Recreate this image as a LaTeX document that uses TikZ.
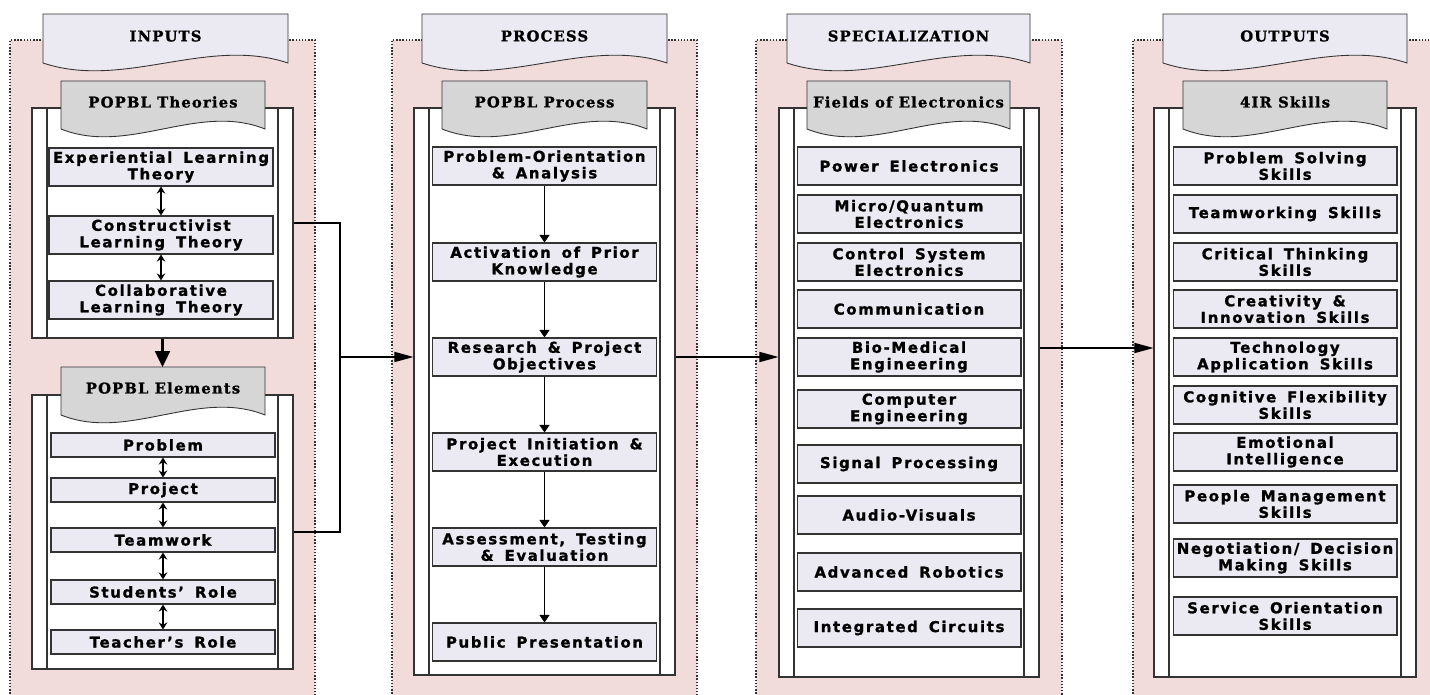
\documentclass[tikz,border=0pt]{standalone}
\usepackage{fontspec}
\usepackage{xcolor}
\usepackage{tikz}
\usetikzlibrary{arrows.meta,fit}
\newfontfamily\itemfont{DejaVu Sans}[LetterSpace=11.0,WordSpace=1.6,BoldFeatures={FakeBold=1.2,WordSpace=1.6}]
\newfontfamily\headfont{DejaVu Serif}[LetterSpace=8.0,BoldFeatures={FakeBold=1.2}]
\definecolor{Panel}{HTML}{F2DCDB}
\definecolor{Lav}{HTML}{EBE9F2}
\definecolor{Tab}{HTML}{D6D6D6}
\definecolor{Edge}{HTML}{333333}

% document-shaped tab: fill, left, right, top, wave base
\newcommand{\wavetab}[5]{%
  \filldraw[#1,draw=Edge,line width=0.5pt] (#2,#4) -- (#3,#4) -- (#3,#5)
    .. controls ({#2+0.67*(#3-#2)},{#5-27}) and ({#2+0.33*(#3-#2)},{#5+27}) .. (#2,#5) -- cycle;}
% pink column behind everything: left, right
\newcommand{\panelbg}[2]{%
  \fill[Panel] (#1,40) rectangle (#2,700);
  \draw[Edge,densely dotted,line width=0.8pt] (#1,700) -- (#1,40) -- (#2,40) -- (#2,700);}
% white holder with double sides: name, left, right, top, bottom
\newcommand{\holder}[5]{%
  \node[frame,fit={(#2,#4) (#3,#5)}] (#1) {};
  \draw[Edge,line width=0.6pt] ({#2+15},#4) -- ({#2+15},#5);
  \draw[Edge,line width=0.6pt] ({#3-15},#4) -- ({#3-15},#5);}

\begin{document}
\begin{tikzpicture}[x=0.02cm,y=-0.02cm,>=Triangle,
  item/.style={draw=Edge,fill=Lav,line width=0.6pt,minimum width=4.48cm,
    minimum height=0.76cm,text width=4.4cm,align=flush center,inner sep=0pt,
    font=\itemfont\bfseries\fontsize{8.5}{9.4}\selectfont},
  small/.style={item,minimum height=0.48cm},
  frame/.style={draw=Edge,fill=white,line width=0.6pt,inner sep=0pt},
  head/.style={font=\headfont\bfseries\fontsize{8.4}{9}\selectfont},
  pair/.style={{Stealth[length=0.14cm,width=0.17cm]}-{Stealth[length=0.14cm,width=0.17cm]},line width=0.6pt},
  flow/.style={-{Triangle[length=0.15cm,width=0.2cm]},line width=0.5pt},
  link/.style={line width=0.9pt},
  bigarrow/.style={-{Triangle[length=0.32cm,width=0.3cm]},line width=1.4pt}]
  \useasboundingbox (0,0) rectangle (1430,695);
  \clip (0,0) rectangle (1430,695);

  % columns
  \panelbg{10}{315}
  \panelbg{392}{697}
  \panelbg{756}{1062}
  \panelbg{1133}{1440}

  % INPUTS
  \wavetab{Lav}{43}{288}{14}{63}
  \node[head] (inhd) at (165.5,36) {INPUTS};
  \holder{thr}{32}{293}{108}{338}
  \wavetab{Tab}{61}{265}{81}{129}
  \node[head] (thrhd) at (163,102) {POPBL Theories};
  \foreach \n/\y/\txt in {t1/167/{Experiential Learning\\Theory},
    t2/235/{Constructivist\\Learning Theory},
    t3/300/{Collaborative\\Learning Theory}}
    \node[item] (\n) at (161,\y) {\txt};
  \foreach \a/\b in {t1/t2,t2/t3}
    \draw[pair] (\a) -- (\b);

  \holder{ele}{32}{293}{395}{669}
  \wavetab{Tab}{61}{265}{367}{415}
  \node[head] (elehd) at (163,388) {POPBL Elements};
  \coordinate (eletop) at (163,367);
  \draw[bigarrow] (thr.south) -- (thr.south |- eletop);
  \foreach \n/\y/\txt in {e1/445/Problem, e2/490/Project, e3/540/Teamwork,
    e4/592/Students’ Role, e5/642/Teacher’s Role}
    \node[small] (\n) at (163,\y) {\txt};
  \foreach \a/\b in {e1/e2,e2/e3,e3/e4,e4/e5}
    \draw[pair] (\a) -- (\b);

  % PROCESS
  \wavetab{Lav}{422}{667}{14}{63}
  \node[head] (prhd) at (544.5,36) {PROCESS};
  \holder{prc}{414}{675}{108}{675}
  \wavetab{Tab}{442}{647}{81}{129}
  \node[head] (prchd) at (544.5,102) {POPBL Process};
  \foreach \n/\y/\txt in {p1/166/{Problem-Orientation\\\& Analysis},
    p2/262/{Activation of Prior\\Knowledge},
    p3/357/{Research \& Project\\Objectives},
    p4/452/{Project Initiation \&\\Execution},
    p5/547/{Assessment, Testing\\\& Evaluation},
    p6/642/{Public Presentation}}
    \node[item] (\n) at (544.5,\y) {\txt};
  \foreach \a/\b in {p1/p2,p2/p3,p3/p4,p4/p5,p5/p6}
    \draw[flow] (\a) -- (\b);

  % SPECIALIZATION
  \wavetab{Lav}{787}{1030}{14}{63}
  \node[head] (sphd) at (908.5,36) {SPECIALIZATION};
  \holder{spc}{779}{1039}{108}{677}
  \wavetab{Tab}{807}{1010}{81}{129}
  \node[head] (spchd) at (908.5,102) {Fields of Electronics};
  \foreach \n/\y/\txt in {s1/166/{Power Electronics},
    s2/214/{Micro/Quantum\\Electronics},
    s3/262/{Control System\\Electronics},
    s4/309/{Communication},
    s5/357/{Bio-Medical\\Engineering},
    s6/409/{Computer\\Engineering},
    s7/464/{Signal Processing},
    s8/515/{Audio-Visuals},
    s9/572/{Advanced Robotics},
    s10/628/{Integrated Circuits}}
    \node[item] (\n) at (909,\y) {\txt};

  % OUTPUTS
  \wavetab{Lav}{1163}{1407}{14}{63}
  \node[head] (othd) at (1285,36) {OUTPUTS};
  \holder{out}{1154}{1416}{108}{677}
  \wavetab{Tab}{1183}{1387}{81}{129}
  \node[head] (outhd) at (1285,102) {4IR Skills};
  \foreach \n/\y/\txt in {o1/166/{Problem Solving\\Skills},
    o2/214/{Teamworking Skills},
    o3/262/{Critical Thinking\\Skills},
    o4/309/{Creativity \&\\Innovation Skills},
    o5/357/{Technology\\Application Skills},
    o6/405/{Cognitive Flexibility\\Skills},
    o7/452/{Emotional\\Intelligence},
    o8/504/{People Management\\Skills},
    o9/558/{Negotiation/ Decision\\Making Skills},
    o10/616/{Service Orientation\\Skills}}
    \node[item] (\n) at (1285,\y) {\txt};

  % links between columns
  \coordinate (jn) at (340,357);
  \coordinate (jo) at (1039,348);
  \draw[link] (thr.east) -| (jn) |- (ele.east);
  \draw[link,-{Triangle[length=0.38cm,width=0.2cm]}] (jn) -- (jn -| prc.west);
  \draw[link,-{Triangle[length=0.38cm,width=0.2cm]}] (jn -| prc.east) -- (jn -| spc.west);
  \draw[link,-{Triangle[length=0.38cm,width=0.2cm]}] (spc.east |- jo) -- (jo -| out.west);
\end{tikzpicture}
\end{document}
